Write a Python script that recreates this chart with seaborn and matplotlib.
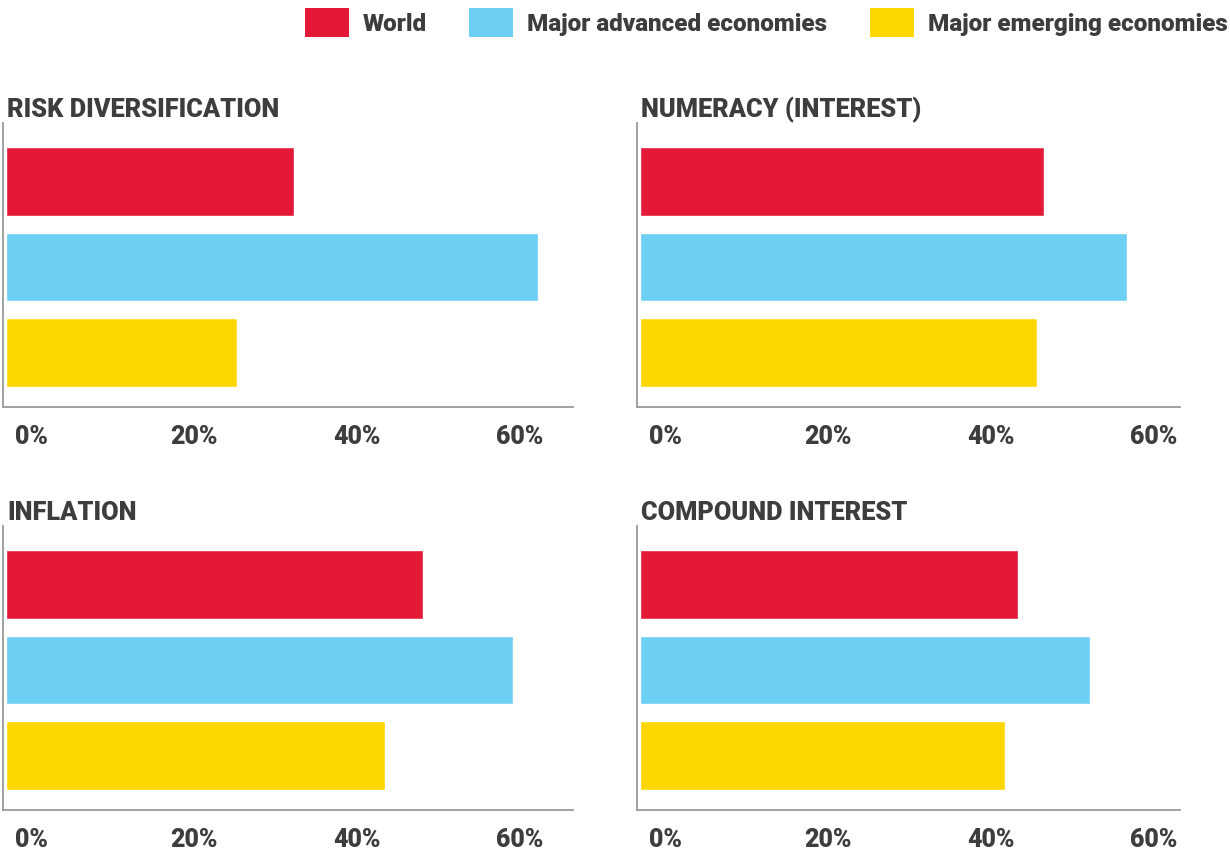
import pandas as pd
import numpy as np
import matplotlib.pyplot as plt
from matplotlib.patches import Patch
import seaborn as sns

sns.set_theme(style='white')
plt.rcParams['font.family'] = ['Roboto', 'DejaVu Sans']

# data (% answering correctly)
groups = ['World', 'Major advanced economies', 'Major emerging economies']
topics = ['RISK DIVERSIFICATION', 'NUMERACY (INTEREST)', 'INFLATION', 'COMPOUND INTEREST']
risk_div = [35.3, 65.3, 28.3]
numeracy = [49.6, 59.8, 48.7]
inflation = [51.2, 62.2, 46.5]
compound = [46.4, 55.2, 44.8]
ticks = [0, 20, 40, 60]
tick_labels = ['0%', '20%', '40%', '60%']

colors = ['#E31937', '#6CCFF3', '#FFD700']
text_col = '#3d3d3d'

df = pd.DataFrame({
    'topic': np.repeat(topics, 3),
    'group': groups * 4,
    'value': risk_div + numeracy + inflation + compound,
})

fig = plt.figure(figsize=(12.3, 8.55), dpi=100)
W, H = 1230, 855

# axes boxes in pixels: left, top, right, bottom
boxes = {
    'RISK DIVERSIFICATION': (3, 123, 573, 407),
    'NUMERACY (INTEREST)': (637, 123, 1180, 407),
    'INFLATION': (3, 526, 573, 810),
    'COMPOUND INTEREST': (637, 526, 1180, 810),
}
px_per_pct = 8.15
label_shift = 25 / px_per_pct  # tick labels sit right of their value in the original

for topic in topics:
    l, t, r, b = boxes[topic]
    ax = fig.add_axes([l / W, 1 - b / H, (r - l) / W, (b - t) / H])
    sub = df[df['topic'] == topic]
    sns.barplot(data=sub, x='value', y='group', hue='group', palette=colors,
                orient='h', width=0.8, legend=False, ax=ax, saturation=1)
    x0 = -3 / px_per_pct
    ax.set_xlim(x0, x0 + (r - l) / px_per_pct)
    ax.set_ylim(2 + 54.5 / 86, -58.5 / 86)
    ax.set_xticks([v + label_shift for v in ticks])
    ax.set_xticklabels(tick_labels, fontsize=18, fontweight='black', color=text_col)
    ax.set_yticks([])
    ax.set_xlabel('')
    ax.set_ylabel('')
    ax.tick_params(axis='x', length=0, pad=13)
    for s in ['top', 'right']:
        ax.spines[s].set_visible(False)
    for s in ['left', 'bottom']:
        ax.spines[s].set_color('#9a9a9a')
        ax.spines[s].set_linewidth(1.3)
    ax.text(4 / (r - l), 1.0 + 6 / (b - t), topic, transform=ax.transAxes,
            fontsize=18.3, fontweight='black', color=text_col, va='baseline', ha='left')

handles = [Patch(facecolor=c, edgecolor='none', label=g) for c, g in zip(colors, groups)]
leg = fig.legend(handles=handles, loc='upper right', bbox_to_anchor=(1.012, 1.01), ncol=3,
                 frameon=False, fontsize=17.5, handlelength=1.81, handleheight=1.45,
                 columnspacing=1.75, handletextpad=0.58, borderaxespad=0.3)
for txt in leg.get_texts():
    txt.set_fontweight('black')
    txt.set_color(text_col)

fig.savefig('out.png', dpi=100)
